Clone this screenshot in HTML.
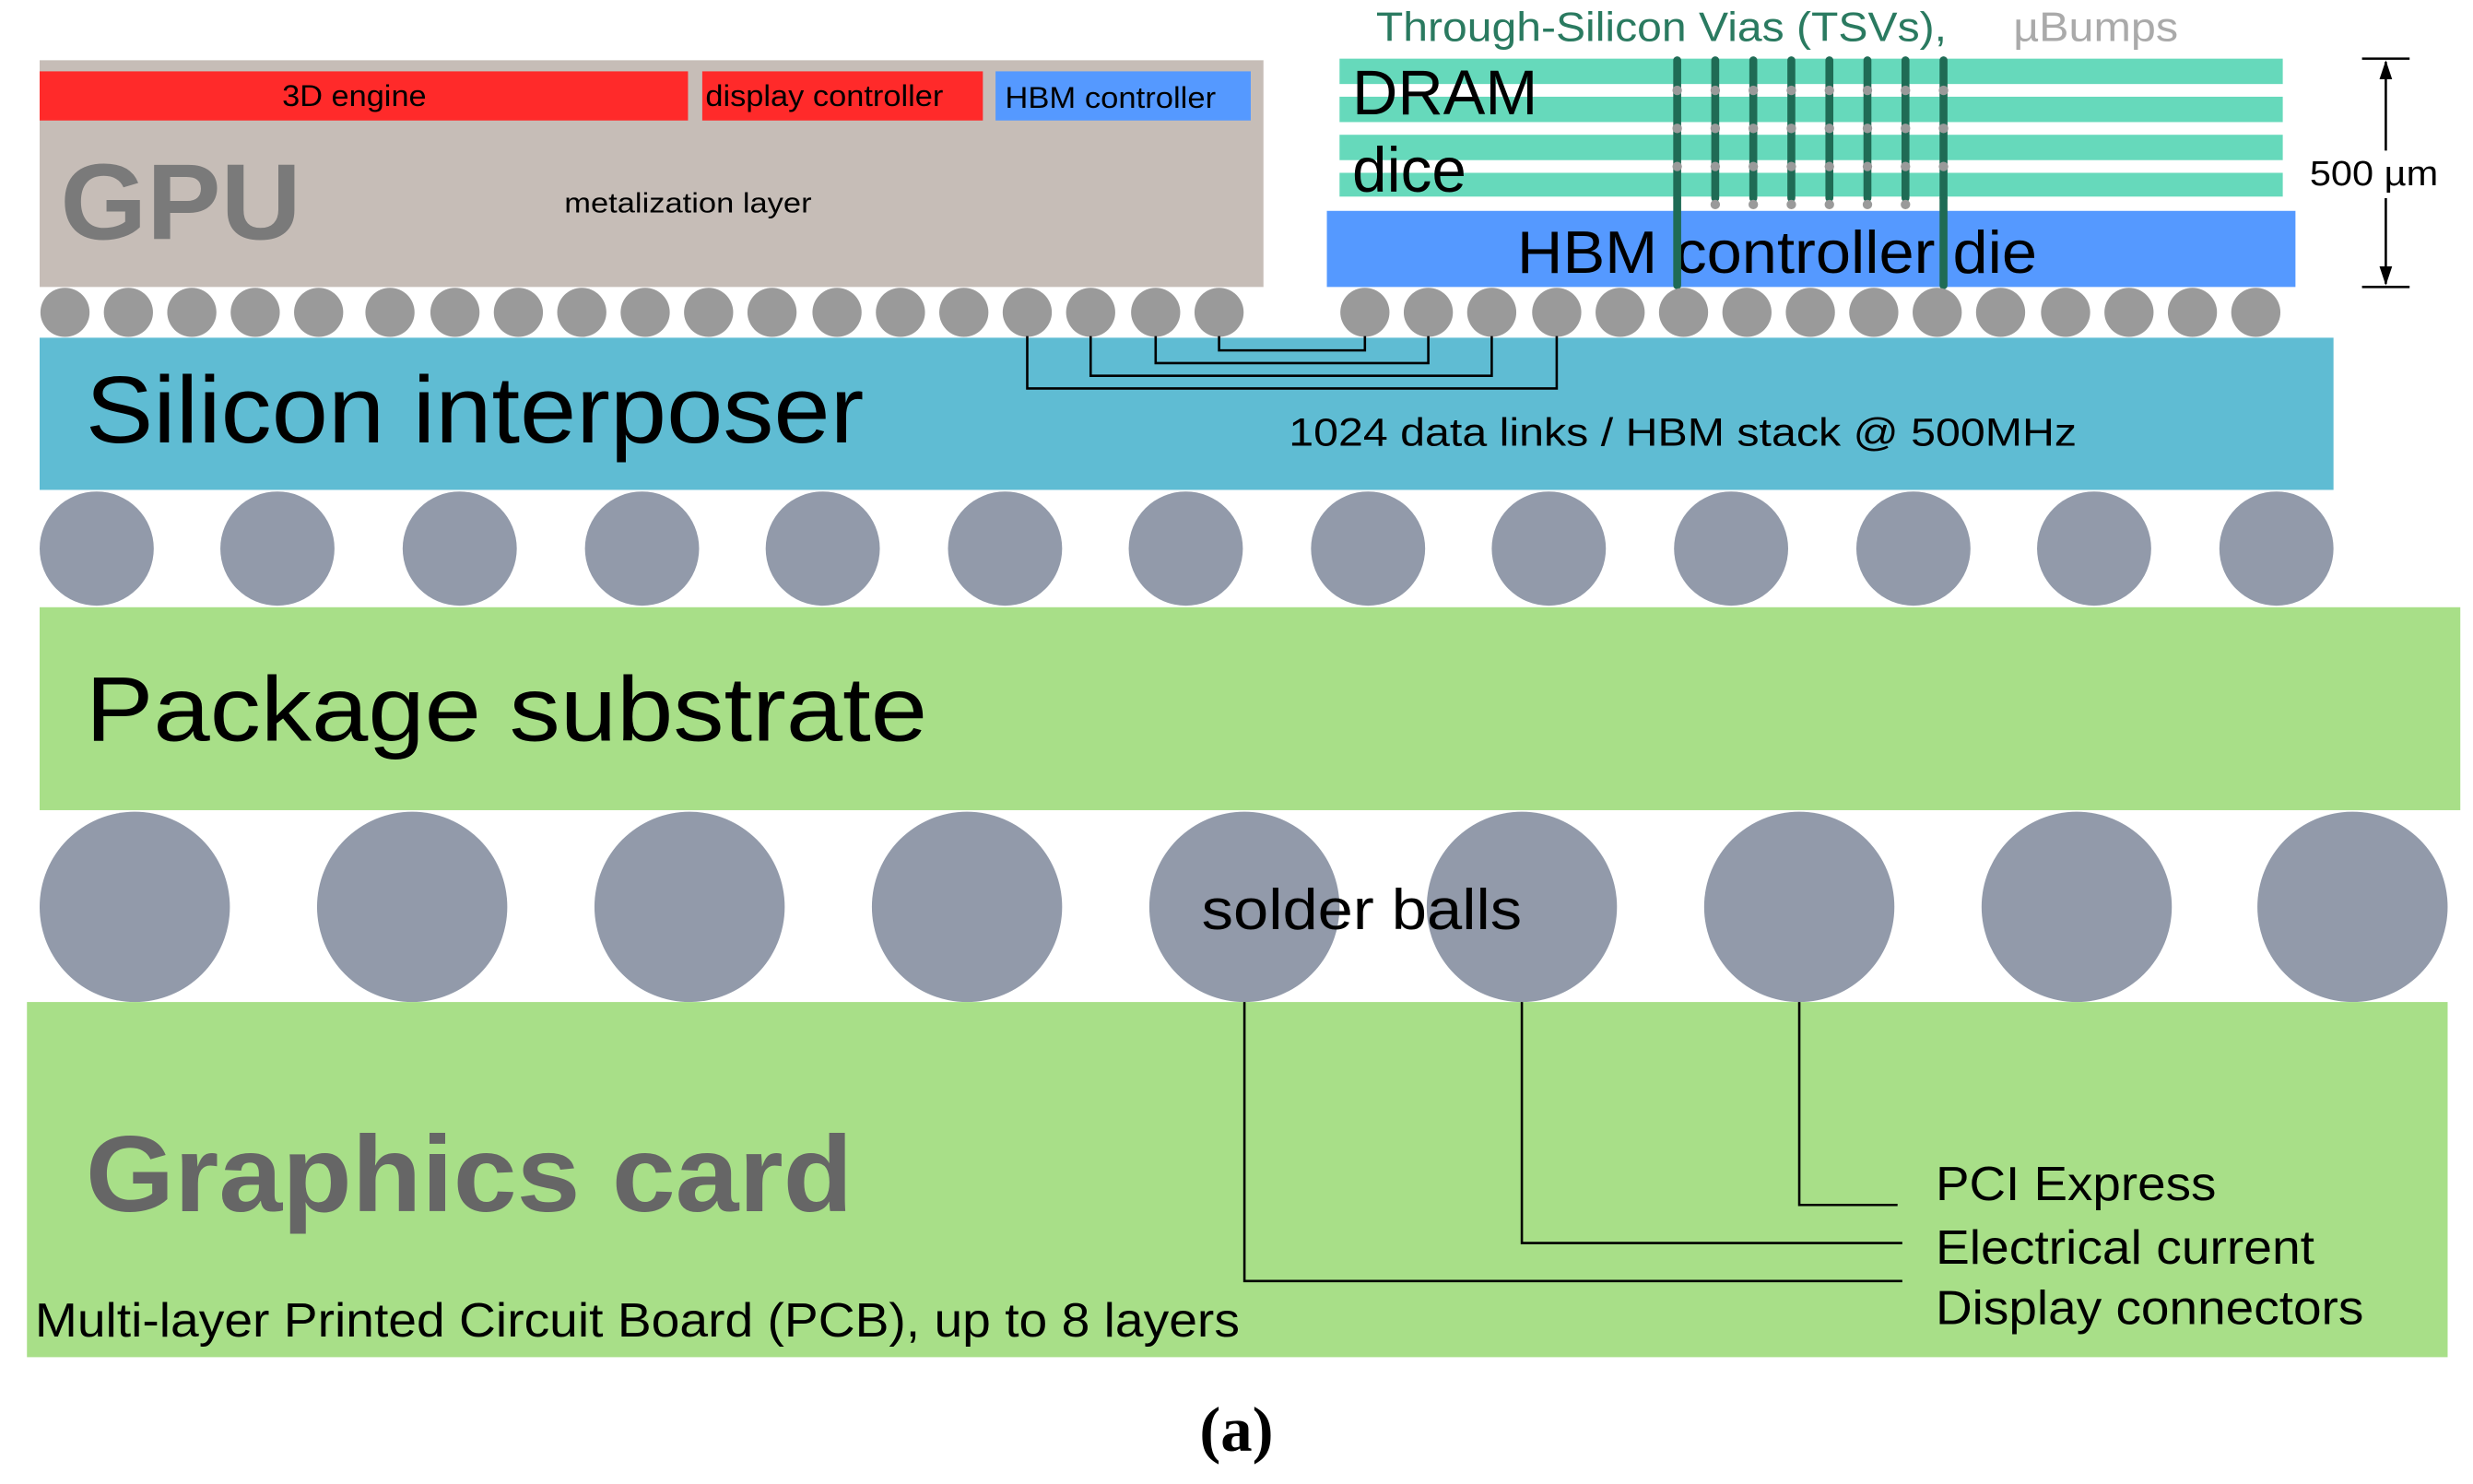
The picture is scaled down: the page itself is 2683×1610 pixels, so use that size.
<!DOCTYPE html>
<html><head><meta charset="utf-8"><style>html,body{margin:0;padding:0;background:#fff}svg{display:block}text{font-family:"Liberation Sans",Arial,sans-serif}</style></head>
<body>
<svg width="2683" height="1610" viewBox="0 0 1560 936" preserveAspectRatio="none" xmlns="http://www.w3.org/2000/svg">
<rect width="1560" height="936" fill="#fff"/>
<!-- GPU -->
<rect x="25" y="38" width="772" height="143" fill="#c6bdb7"/>
<rect x="25" y="45" width="409" height="31" fill="#ff2a2a"/>
<rect x="443" y="45" width="177" height="31" fill="#ff2a2a"/>
<rect x="628" y="45" width="161" height="31" fill="#5599ff"/>
<text x="178" y="67" font-size="19" textLength="91" lengthAdjust="spacingAndGlyphs">3D engine</text>
<text x="445" y="67" font-size="19" textLength="150" lengthAdjust="spacingAndGlyphs">display controller</text>
<text x="634" y="68" font-size="19" textLength="133" lengthAdjust="spacingAndGlyphs">HBM controller</text>
<text x="38" y="151" font-size="68" font-weight="bold" fill="#7a7a7a" textLength="152" lengthAdjust="spacingAndGlyphs">GPU</text>
<text x="356" y="134" font-size="18" textLength="156" lengthAdjust="spacingAndGlyphs">metalization layer</text>
<!-- TSV header -->
<text x="868" y="26" font-size="26" fill="#2a7a60" textLength="360" lengthAdjust="spacingAndGlyphs">Through-Silicon Vias (TSVs),</text>
<text x="1270" y="26" font-size="26" fill="#aaaaaa" textLength="104" lengthAdjust="spacingAndGlyphs">µBumps</text>
<!-- DRAM strips -->
<g fill="#66d9bb">
<rect x="845" y="37" width="595" height="16"/>
<rect x="845" y="61" width="595" height="16"/>
<rect x="845" y="85" width="595" height="16"/>
<rect x="845" y="109" width="595" height="15"/>
</g>
<rect x="837" y="133" width="611" height="48" fill="#5599ff"/>
<text x="853" y="72" font-size="40" textLength="117" lengthAdjust="spacingAndGlyphs">DRAM</text>
<text x="853" y="121" font-size="40" textLength="72" lengthAdjust="spacingAndGlyphs">dice</text>
<text x="957" y="172" font-size="38" textLength="328" lengthAdjust="spacingAndGlyphs">HBM controller die</text>
<g>
<g stroke="#1f6b55" stroke-width="5" stroke-linecap="round">
<path d="M1058 38V125M1082 38V125M1106 38V125M1130 38V125M1154 38V125M1178 38V125M1202 38V125M1226 38V125"/>
<path d="M1058 125V180M1226 125V180"/>
</g>
<g fill="#9a9a9a">
<circle cx="1058" cy="57" r="3"/><circle cx="1082" cy="57" r="3"/><circle cx="1106" cy="57" r="3"/><circle cx="1130" cy="57" r="3"/><circle cx="1154" cy="57" r="3"/><circle cx="1178" cy="57" r="3"/><circle cx="1202" cy="57" r="3"/><circle cx="1226" cy="57" r="3"/>
<circle cx="1058" cy="81" r="3"/><circle cx="1082" cy="81" r="3"/><circle cx="1106" cy="81" r="3"/><circle cx="1130" cy="81" r="3"/><circle cx="1154" cy="81" r="3"/><circle cx="1178" cy="81" r="3"/><circle cx="1202" cy="81" r="3"/><circle cx="1226" cy="81" r="3"/>
<circle cx="1058" cy="105" r="3"/><circle cx="1082" cy="105" r="3"/><circle cx="1106" cy="105" r="3"/><circle cx="1130" cy="105" r="3"/><circle cx="1154" cy="105" r="3"/><circle cx="1178" cy="105" r="3"/><circle cx="1202" cy="105" r="3"/><circle cx="1226" cy="105" r="3"/>
<circle cx="1082" cy="129" r="3"/><circle cx="1106" cy="129" r="3"/><circle cx="1130" cy="129" r="3"/><circle cx="1154" cy="129" r="3"/><circle cx="1178" cy="129" r="3"/><circle cx="1202" cy="129" r="3"/>
</g>
</g>
<!-- dimension -->
<g stroke="#000" stroke-width="1.5" fill="none">
<path d="M1490 37H1520M1490 181H1520M1505 39V95M1505 125V179"/>
</g>
<path d="M1505 38l-4 12h8z M1505 180l-4 -12h8z" fill="#000"/>
<text x="1457" y="117" font-size="22" textLength="81" lengthAdjust="spacingAndGlyphs">500 µm</text>
<!-- small bumps -->
<g fill="#9a9a9a">
<circle cx="41" cy="197" r="15.5"/><circle cx="81" cy="197" r="15.5"/><circle cx="121" cy="197" r="15.5"/><circle cx="161" cy="197" r="15.5"/><circle cx="201" cy="197" r="15.5"/><circle cx="246" cy="197" r="15.5"/><circle cx="287" cy="197" r="15.5"/><circle cx="327" cy="197" r="15.5"/><circle cx="367" cy="197" r="15.5"/><circle cx="407" cy="197" r="15.5"/><circle cx="447" cy="197" r="15.5"/><circle cx="487" cy="197" r="15.5"/><circle cx="528" cy="197" r="15.5"/><circle cx="568" cy="197" r="15.5"/><circle cx="608" cy="197" r="15.5"/><circle cx="648" cy="197" r="15.5"/><circle cx="688" cy="197" r="15.5"/><circle cx="729" cy="197" r="15.5"/><circle cx="769" cy="197" r="15.5"/>
<circle cx="861" cy="197" r="15.5"/><circle cx="901" cy="197" r="15.5"/><circle cx="941" cy="197" r="15.5"/><circle cx="982" cy="197" r="15.5"/><circle cx="1022" cy="197" r="15.5"/><circle cx="1062" cy="197" r="15.5"/><circle cx="1102" cy="197" r="15.5"/><circle cx="1142" cy="197" r="15.5"/><circle cx="1182" cy="197" r="15.5"/><circle cx="1222" cy="197" r="15.5"/><circle cx="1262" cy="197" r="15.5"/><circle cx="1303" cy="197" r="15.5"/><circle cx="1343" cy="197" r="15.5"/><circle cx="1383" cy="197" r="15.5"/><circle cx="1423" cy="197" r="15.5"/>
</g>
<!-- interposer -->
<rect x="25" y="213" width="1447" height="96" fill="#5fbcd3"/>
<text x="54" y="279" font-size="60" textLength="491" lengthAdjust="spacingAndGlyphs">Silicon interposer</text>
<text x="813" y="281" font-size="25" textLength="497" lengthAdjust="spacingAndGlyphs">1024 data links / HBM stack @ 500MHz</text>
<g stroke="#000" stroke-width="1.5" fill="none">
<path d="M648 212V245H982V212M688 212V237H941V212M729 212V229H901V212M769 212V221H861V212"/>
</g>
<!-- bumps row 2 -->
<g fill="#929aaa">
<circle cx="61" cy="346" r="36"/><circle cx="175" cy="346" r="36"/><circle cx="290" cy="346" r="36"/><circle cx="405" cy="346" r="36"/><circle cx="519" cy="346" r="36"/><circle cx="634" cy="346" r="36"/><circle cx="748" cy="346" r="36"/><circle cx="863" cy="346" r="36"/><circle cx="977" cy="346" r="36"/><circle cx="1092" cy="346" r="36"/><circle cx="1207" cy="346" r="36"/><circle cx="1321" cy="346" r="36"/><circle cx="1436" cy="346" r="36"/>
</g>
<!-- package substrate -->
<rect x="25" y="383" width="1527" height="128" fill="#a8df88"/>
<text x="54" y="467" font-size="58" textLength="531" lengthAdjust="spacingAndGlyphs">Package substrate</text>
<!-- solder balls -->
<g fill="#929aaa">
<circle cx="85" cy="572" r="60"/><circle cx="260" cy="572" r="60"/><circle cx="435" cy="572" r="60"/><circle cx="610" cy="572" r="60"/><circle cx="785" cy="572" r="60"/><circle cx="960" cy="572" r="60"/><circle cx="1135" cy="572" r="60"/><circle cx="1310" cy="572" r="60"/><circle cx="1484" cy="572" r="60"/>
</g>
<text x="758" y="586" font-size="36" textLength="202" lengthAdjust="spacingAndGlyphs">solder balls</text>
<!-- graphics card -->
<rect x="17" y="632" width="1527" height="224" fill="#a8df88"/>
<text x="54" y="764" font-size="68" font-weight="bold" fill="#666" textLength="484" lengthAdjust="spacingAndGlyphs">Graphics card</text>
<text x="22" y="843" font-size="30" textLength="760" lengthAdjust="spacingAndGlyphs">Multi-layer Printed Circuit Board (PCB), up to 8 layers</text>
<g stroke="#000" stroke-width="1.5" fill="none">
<path d="M785 632V808H1200M960 632V784H1200M1135 632V760H1197"/>
</g>
<text x="1221" y="757" font-size="30" textLength="177" lengthAdjust="spacingAndGlyphs">PCI Express</text>
<text x="1221" y="797" font-size="30" textLength="239" lengthAdjust="spacingAndGlyphs">Electrical current</text>
<text x="1221" y="835" font-size="30" textLength="270" lengthAdjust="spacingAndGlyphs">Display connectors</text>
<text x="780" y="915" font-size="40" font-weight="bold" text-anchor="middle" style="font-family:'Liberation Serif',serif">(a)</text>
</svg>
</body></html>
